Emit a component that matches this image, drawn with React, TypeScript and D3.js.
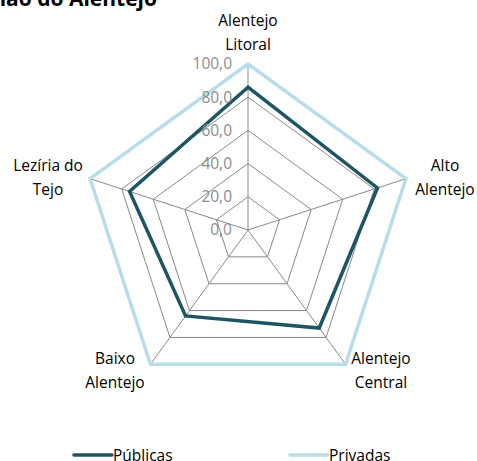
import React from "react";
import * as d3 from "d3";

const categories = ["Alentejo Litoral", "Alto Alentejo", "Alentejo Central", "Baixo Alentejo", "Lezíria do Tejo"];
const labelLines = [["Alentejo", "Litoral"], ["Alto", "Alentejo"], ["Alentejo", "Central"], ["Baixo", "Alentejo"], ["Lezíria do", "Tejo"]];
const publicas = [86, 82, 73, 64, 75];
const privadas = [100, 100, 100, 100, 100];
const ticks = [0, 20, 40, 60, 80, 100];
const seriesNames = ["Públicas", "Privadas"];
const colors = ["#1e5564", "#b7dde8"];

const W = 477, H = 461;
const cx = 248, cy = 230, R = 166;
const FONT = "'Open Sans', Lato, sans-serif";

export default function App() {
  const r = d3.scaleLinear().domain([0, 100]).range([0, R]);
  const angle = (i: number) => (i * 2 * Math.PI) / categories.length;
  const pt = (i: number, v: number): [number, number] => [
    cx + r(v) * Math.sin(angle(i)),
    cy - r(v) * Math.cos(angle(i)),
  ];
  const line = d3.line<[number, number]>().curve(d3.curveLinearClosed);
  const poly = (vals: number[]) => line(vals.map((v, i) => pt(i, v))) || "";

  const labelPos: { x: number; y: number }[] = [
    { x: 248, y: 26 },
    { x: 445, y: 171 },
    { x: 381, y: 364 },
    { x: 115, y: 364 },
    { x: 48, y: 171 },
  ];

  return (
    <svg width={W} height={H} style={{ position: "absolute", left: 0, top: 0 }}>
      <rect width={W} height={H} fill="#fff" />
      <text x={157} y={6} textAnchor="end" fontFamily={FONT} fontWeight="bold" fontSize={21} fill="#000">
        Região do Alentejo
      </text>
      {ticks.slice(1).map((t) => (
        <path key={t} d={poly(categories.map(() => t))} fill="none" stroke="#898989" strokeWidth={1} />
      ))}
      {categories.map((c, i) => {
        const [x, y] = pt(i, 100);
        return <line key={c} x1={cx} y1={cy} x2={x} y2={y} stroke="#898989" strokeWidth={1} />;
      })}
      <path d={poly(privadas)} fill="none" stroke={colors[1]} strokeWidth={3.5} strokeLinejoin="miter" />
      <path d={poly(publicas)} fill="none" stroke={colors[0]} strokeWidth={3.5} strokeLinejoin="miter" />
      {ticks.map((t) => (
        <text key={t} x={232} y={cy - r(t)} dy="0.35em" textAnchor="end" fontFamily={FONT} fontSize={15.5} fill="#8c8c8c">
          {t.toFixed(1).replace(".", ",")}
        </text>
      ))}
      {labelLines.map((lines, i) => (
        <text key={i} x={labelPos[i].x} y={labelPos[i].y} textAnchor="middle" fontFamily={FONT} fontSize={15.5} fill="#000">
          {lines.map((l, j) => (
            <tspan key={j} x={labelPos[i].x} dy={j === 0 ? 0 : 24}>{l}</tspan>
          ))}
        </text>
      ))}
      {seriesNames.map((s, i) => {
        const x0 = i === 0 ? 74 : 290;
        return (
          <g key={s}>
            <line x1={x0} x2={x0 + 38} y1={455} y2={455} stroke={colors[i]} strokeWidth={3.5} strokeLinecap="round" />
            <text x={x0 + 39} y={461} fontFamily={FONT} fontSize={15.5} fill="#000">{s}</text>
          </g>
        );
      })}
    </svg>
  );
}
